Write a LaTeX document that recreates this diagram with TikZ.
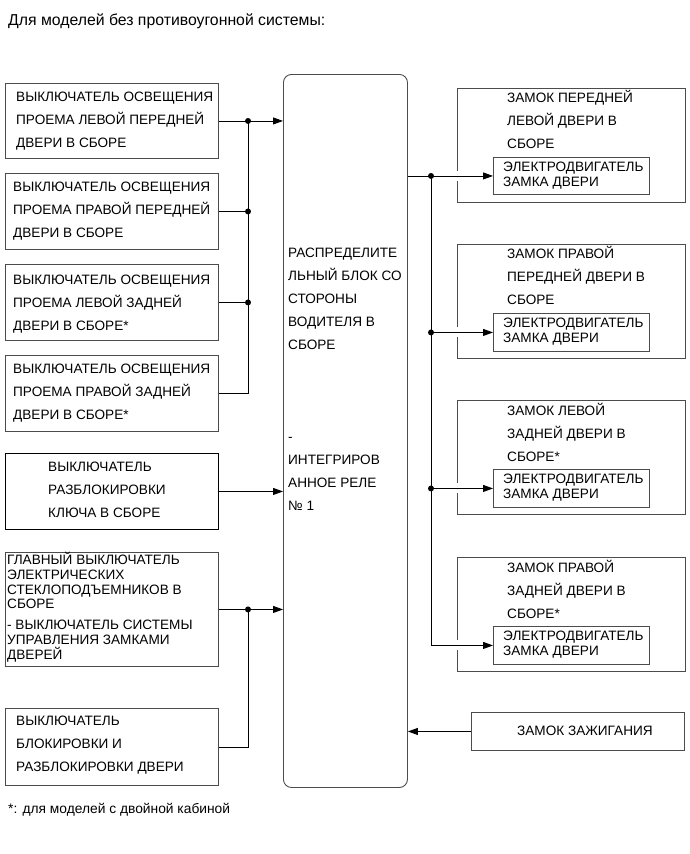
\documentclass[tikz,border=0pt]{standalone}
\usepackage{fontspec}
\setmainfont{Liberation Sans}
\usetikzlibrary{arrows.meta,calc}
\newcommand\fl{\rule{0pt}{12pt}}
\begin{document}
\begin{tikzpicture}[x=1pt,y=-1pt,
  box/.style={draw=black!70, line width=0.9pt, rectangle, inner sep=0pt, anchor=north west},
  txt/.style={anchor=north west, align=left, inner sep=0pt, font=\fontsize{13.6}{23}\selectfont},
  tight/.style={anchor=north west, align=left, inner sep=0pt, font=\fontsize{13.6}{14.6}\selectfont},
  conn/.style={draw=black, line width=0.9pt},
  arr/.style={conn, -{Triangle[length=10pt,width=7pt]}},
  dot/.style={fill=black},
  gap/.style={draw=white, line width=2pt}
]
\useasboundingbox (0,0) rectangle (690,854);

% title
\node[anchor=base west, inner sep=0pt, font=\fontsize{15.8}{18}\selectfont] (title) at (8,25) {Для моделей без противоугонной системы:};

% central block
\node[box, draw=black!70, rounded corners=8pt, minimum width=124pt, minimum height=713pt] (c) at (283,74) {};
\node[txt] (ct) at (288,245.7) {\fl РАСПРЕДЕЛИТЕ\\ЛЬНЫЙ БЛОК СО\\СТОРОНЫ\\ВОДИТЕЛЯ В\\СБОРЕ\\[69pt]-\\ИНТЕГРИРОВ\\АННОЕ РЕЛЕ\\№ 1};

% left boxes
\node[box, minimum width=213pt, minimum height=75pt] (b1) at (5,83) {};
\node[txt] (t1) at (16,89.7) {\fl ВЫКЛЮЧАТЕЛЬ ОСВЕЩЕНИЯ\\ПРОЕМА ЛЕВОЙ ПЕРЕДНЕЙ\\ДВЕРИ В СБОРЕ};
\node[box, minimum width=213pt, minimum height=76pt] (b2) at (5,173) {};
\node[txt] (t2) at (13,179.7) {\fl ВЫКЛЮЧАТЕЛЬ ОСВЕЩЕНИЯ\\ПРОЕМА ПРАВОЙ ПЕРЕДНЕЙ\\ДВЕРИ В СБОРЕ};
\node[box, minimum width=213pt, minimum height=76pt] (b3) at (5,264) {};
\node[txt] (t3) at (13,272.7) {\fl ВЫКЛЮЧАТЕЛЬ ОСВЕЩЕНИЯ\\ПРОЕМА ЛЕВОЙ ЗАДНЕЙ\\ДВЕРИ В СБОРЕ*};
\node[box, minimum width=213pt, minimum height=76pt] (b4) at (5,355) {};
\node[txt] (t4) at (13,361.7) {\fl ВЫКЛЮЧАТЕЛЬ ОСВЕЩЕНИЯ\\ПРОЕМА ПРАВОЙ ЗАДНЕЙ\\ДВЕРИ В СБОРЕ*};
\node[box, draw=black, minimum width=213pt, minimum height=76pt] (b5) at (5,453) {};
\node[txt] (t5) at (48,459.7) {\fl ВЫКЛЮЧАТЕЛЬ\\РАЗБЛОКИРОВКИ\\КЛЮЧА В СБОРЕ};
\node[box, minimum width=213pt, minimum height=114pt] (b6) at (5,552) {};
\node[tight] (t6) at (7,552.5) {\fl ГЛАВНЫЙ ВЫКЛЮЧАТЕЛЬ\\ЭЛЕКТРИЧЕСКИХ\\СТЕКЛОПОДЪЕМНИКОВ В\\СБОРЕ\\[6.5pt]- ВЫКЛЮЧАТЕЛЬ СИСТЕМЫ\\УПРАВЛЕНИЯ ЗАМКАМИ\\ДВЕРЕЙ};
\node[box, minimum width=213pt, minimum height=77pt] (b7) at (5,708) {};
\node[txt] (t7) at (16,713.7) {\fl ВЫКЛЮЧАТЕЛЬ\\БЛОКИРОВКИ И\\РАЗБЛОКИРОВКИ ДВЕРИ};

% right boxes
\node[box, minimum width=228pt, minimum height=114pt] (r1) at (457,88) {};
\node[txt] (rt1) at (507,89.7) {\fl ЗАМОК ПЕРЕДНЕЙ\\ЛЕВОЙ ДВЕРИ В\\СБОРЕ};
\node[box, minimum width=156pt, minimum height=37pt] (m1) at (493,157) {};
\node[tight] (mt1) at (503,159.5) {\fl ЭЛЕКТРОДВИГАТЕЛЬ\\ЗАМКА ДВЕРИ};

\node[box, minimum width=228pt, minimum height=114pt] (r2) at (457,244) {};
\node[txt] (rt2) at (507,245.7) {\fl ЗАМОК ПРАВОЙ\\ПЕРЕДНЕЙ ДВЕРИ В\\СБОРЕ};
\node[box, minimum width=156pt, minimum height=38pt] (m2) at (493,313) {};
\node[tight] (mt2) at (503,315.7) {\fl ЭЛЕКТРОДВИГАТЕЛЬ\\ЗАМКА ДВЕРИ};

\node[box, minimum width=228pt, minimum height=114pt] (r3) at (457,400) {};
\node[txt] (rt3) at (507,402.7) {\fl ЗАМОК ЛЕВОЙ\\ЗАДНЕЙ ДВЕРИ В\\СБОРЕ*};
\node[box, minimum width=156pt, minimum height=38pt] (m3) at (493,469) {};
\node[tight] (mt3) at (503,471.7) {\fl ЭЛЕКТРОДВИГАТЕЛЬ\\ЗАМКА ДВЕРИ};

\node[box, minimum width=228pt, minimum height=114pt] (r4) at (457,557) {};
\node[txt] (rt4) at (507,559.7) {\fl ЗАМОК ПРАВОЙ\\ЗАДНЕЙ ДВЕРИ В\\СБОРЕ*};
\node[box, minimum width=156pt, minimum height=38pt] (m4) at (493,626) {};
\node[tight] (mt4) at (503,628.7) {\fl ЭЛЕКТРОДВИГАТЕЛЬ\\ЗАМКА ДВЕРИ};

% ignition
\node[box, minimum width=213pt, minimum height=38pt] (ign) at (471,712) {};
\node[txt] (it) at (517,723.7) {\fl ЗАМОК ЗАЖИГАНИЯ};

% footnote
\node[anchor=base west, inner sep=0pt, font=\fontsize{13.8}{16}\selectfont] (foot) at (8,813) {*: для моделей с двойной кабиной};

% buses
\coordinate (busL) at (248,0);
\coordinate (busR) at (431,0);

% left connectors
\draw[arr] (b1.east) -- (b1.east -| c.west);
\draw[conn] (b2.east) -- (b2.east -| busL);
\draw[conn] (b3.east) -- (b3.east -| busL);
\draw[conn] (b4.east) -| (b1.east -| busL);
\fill[dot] (b1.east -| busL) circle[radius=3pt];
\fill[dot] (b2.east -| busL) circle[radius=3pt];
\fill[dot] (b3.east -| busL) circle[radius=3pt];

\draw[arr] (b5.east) -- (b5.east -| c.west);

\draw[arr] (b6.east) -- (b6.east -| c.west);
\draw[conn] (b7.east) -| (b6.east -| busL);
\fill[dot] (b6.east -| busL) circle[radius=3pt];

% right connectors
\foreach \r/\m in {r1/m1,r2/m2,r3/m3,r4/m4}{
  \draw[gap] ($(\r.west |- \m.west)+(0,-5)$) -- ($(\r.west |- \m.west)+(0,5)$);
}
\draw[arr] (c.east |- m1.west) -- (m1.west);
\draw[arr] (m2.west -| busR) -- (m2.west);
\draw[arr] (m3.west -| busR) -- (m3.west);
\draw[arr] (m1.west -| busR) |- (m4.west);
\fill[dot] (m1.west -| busR) circle[radius=3pt];
\fill[dot] (m2.west -| busR) circle[radius=3pt];
\fill[dot] (m3.west -| busR) circle[radius=3pt];

\draw[arr] (ign.west) -- (ign.west -| c.east);
\end{tikzpicture}
\end{document}
